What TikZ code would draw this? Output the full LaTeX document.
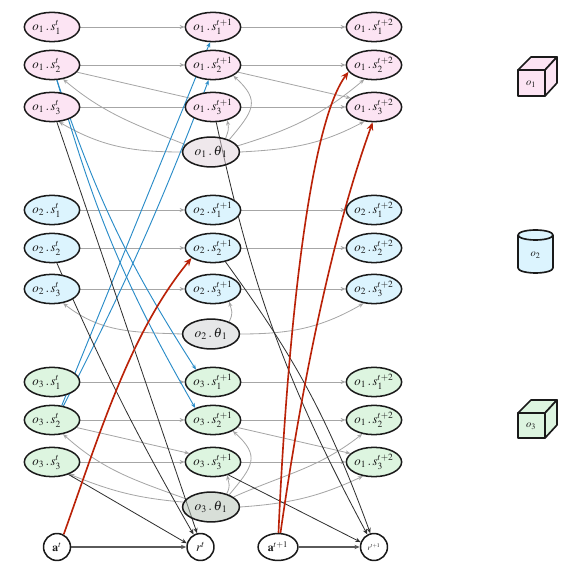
\documentclass[tikz,border=0pt]{standalone}
\usepackage{mathptmx}
\usetikzlibrary{arrows.meta,shapes.geometric}
\definecolor{ink}{HTML}{1A1A1A}
\definecolor{objpink}{HTML}{FCE4F3}
\definecolor{objblue}{HTML}{DCF4FE}
\definecolor{objgreen}{HTML}{DDF5E0}
\definecolor{thetapink}{HTML}{DFD1D9}
\definecolor{thetablue}{HTML}{CDCFD1}
\definecolor{thetagreen}{HTML}{B1BFB1}
\definecolor{linegrey}{HTML}{A6A6A6}
\definecolor{lineblue}{HTML}{2A8CC8}
\definecolor{linered}{HTML}{BA2208}
\definecolor{lineblack}{HTML}{303030}
\definecolor{linedark}{HTML}{5A5A5A}
\pgfdeclarelayer{edges}
\pgfsetlayers{edges,main}
\tikzset{statenode/.style={ellipse,draw=ink,line width=1.3pt,minimum width=45pt,minimum height=25pt,
    inner sep=0,text=ink,font=\fontsize{11}{13}\selectfont},
  thetanode/.style={ellipse,draw=ink,line width=1.3pt,inner sep=0,minimum width=48.5pt,minimum height=25.5pt,
    fill opacity=0.5,text opacity=1,draw opacity=1,text=ink,font=\fontsize{11.5}{14}\selectfont},
  rewardnode/.style={circle,draw=ink,fill=white,line width=1.3pt,inner sep=0,minimum size=23pt,text=ink},
  actionnode/.style={rewardnode,ellipse,minimum width=34pt,minimum height=23pt,font=\fontsize{10}{12}\selectfont},
  greyedge/.style={linegrey,line width=0.7pt,-{Stealth[length=1.5mm,width=1.2mm]}},
  greyplain/.style={linegrey,line width=0.7pt},
  blueedge/.style={lineblue,line width=0.8pt,-{Stealth[length=1.5mm,width=1.2mm]}},
  blackedge/.style={lineblack,line width=0.7pt,-{Stealth[length=1.6mm,width=1.3mm]}},
  rededge/.style={linered,line width=1.4pt,-{Stealth[length=2.4mm,width=2mm]}},
  iconbox/.style={draw=ink,line width=1.4pt,line join=round},
  iconlabel/.style={inner sep=0,text=ink,font=\fontsize{9}{11}\selectfont}}
\newcommand{\slabel}[3]{$o_{#1}\,.\,s_{#2}^{#3}$}
\newcommand{\tlabel}[1]{$o_{#1}\,.\,\theta_{\kern1pt 1}$}
\begin{document}
\begin{tikzpicture}[x=0.3mm,y=-0.3mm]
\useasboundingbox (0,0) rectangle (582,575);
% state nodes, three columns per object
\foreach \obj/\colr/\ya/\yb/\yc in {1/objpink/27/65/107,2/objblue/210/248/289,3/objgreen/382/420/462}{
  \foreach \col/\xpos/\tsup in {0/52/t\phantom{+1},1/213/t+1,2/374/t+2}{
    \pgfmathtruncatemacro{\lab}{(\obj==3 && \col==2) ? 1 : \obj}
    \node[statenode,fill=\colr] (o\obj s1t\col) at (\xpos,\ya) {\slabel{\lab}{1}{\tsup}};
    \node[statenode,fill=\colr] (o\obj s2t\col) at (\xpos,\yb) {\slabel{\lab}{2}{\tsup}};
    \node[statenode,fill=\colr] (o\obj s3t\col) at (\xpos,\yc) {\slabel{\lab}{3}{\tsup}};
  }
}
\node[thetanode,fill=thetapink] (o1theta) at (211,152) {\tlabel{1}};
\node[thetanode,fill=thetablue] (o2theta) at (211,334) {\tlabel{2}};
\node[thetanode,fill=thetagreen] (o3theta) at (211,507) {\tlabel{3}};
\node[actionnode,circle,minimum size=23pt] (at0) at (57,547) {$\mathbf{a}^{t}$};
\node[rewardnode,font=\fontsize{11}{13}\selectfont] (rt0) at (200.5,547) {$r^{t}$};
\node[actionnode] (at1) at (278,547) {$\mathbf{a}^{t+1}$};
\node[rewardnode,font=\fontsize{6.5}{8}\selectfont] (rt1) at (374,547) {$r^{t+1}$};
\begin{pgfonlayer}{edges}
% transitions along one object
\foreach \obj/\row in {1/1,1/2,2/1,2/2,2/3,3/1,3/2,3/3}
  \draw[greyedge] (o\obj s\row t0) -- (o\obj s\row t1);
\foreach \obj in {1,2,3}{
  \foreach \row in {1,2,3}
    \draw[greyedge] (o\obj s\row t1) -- (o\obj s\row t2);
}
\draw[greyplain] (o1s3t0) -- (o1s3t1);
\draw[greyplain] (o1s2t0.-16) -- (o1s3t1.159);
\draw[greyedge] (o1s2t1.-16) -- (o1s3t2.159);
\draw[greyedge] (o3s2t0.-17) -- (o3s3t1.160);
\draw[greyedge] (o3s2t1.-17) -- (o3s3t2.160);
% parameters to states
\draw[greyedge] (o1theta.180) to[out=180,in=-30] (o1s3t0.-65);
\draw[greyedge] (o1theta.164) to[out=158,in=-40] (o1s2t0.-52);
\draw[greyedge] (o1theta.43) to[out=70,in=-80,looseness=1.3] (o1s3t1.-43);
\draw[greyedge] (o1theta.34) to[out=50,in=-42,looseness=1.5] (o1s2t1.-28);
\draw[greyedge] (o1theta.13) to[out=17,in=-140] (o1s2t2.-124);
\draw[greyedge] (o1theta.0) to[out=3,in=-152] (o1s3t2.-124);
\draw[greyedge] (o2theta.180) to[out=178,in=-38] (o2s3t0.-52);
\draw[greyedge] (o2theta.34) to[out=65,in=-75,looseness=1.3] (o2s3t1.-38);
\draw[greyedge] (o2theta.0) to[out=0,in=-150] (o2s3t2.-126);
\draw[greyedge] (o3theta.170) to[out=175,in=-22] (o3s3t0.-35);
\draw[greyedge] (o3theta.162) to[out=160,in=-42] (o3s2t0.-52);
\draw[greyedge] (o3theta.40) to[out=65,in=-80,looseness=1.3] (o3s3t1.-43);
\draw[greyedge] (o3theta.34) to[out=50,in=-42,looseness=1.5] (o3s2t1.-29);
\draw[greyedge] (o3theta.24) to[out=24,in=-142] (o3s2t2.-130);
\draw[greyedge] (o3theta.0) to[out=4,in=-155] (o3s3t2.-128);
% between objects
\draw[blueedge] (o3s2t0.56) -- (o1s1t1.-101);
\draw[blueedge] (o3s2t0.51) to[bend right=3] (o1s2t1.-106);
\draw[blueedge] (o1s2t0.-72) to[bend right=7] (o3s1t1.144);
\draw[blueedge] (o1s2t0.-72) to[bend right=7] (o3s2t1.146);
% rewards
\draw[blackedge] (o1s3t0.-72) -- (rt0.104);
\draw[blackedge] (o2s2t0.-72) to[bend right=3] (rt0.119);
\draw[blackedge] (o3s3t0.-37) -- (rt0.165);
\draw[blackedge] (o1s3t1.-78) to[bend right=8] (rt1.118);
\draw[blackedge] (o2s2t1.-48) to[bend left=8] (rt1.105);
\draw[blackedge] (o3s3t1.-40) -- (rt1.160);
\draw[blackedge,linedark,line width=1pt] (at0) -- (rt0);
\draw[blackedge,linedark,line width=1pt] (at1) -- (rt1);
% actions
\draw[rededge] (at0.62) .. controls (100,433) and (130,333) .. (o2s2t1.-155);
\draw[rededge] (at1.88) .. controls (285,380) and (305,130) .. (o1s2t2.-165);
\draw[rededge] (at1.80) .. controls (299,403) and (329,243) .. (o1s3t2.-95);
\end{pgfonlayer}
% object icons
\draw[iconbox,fill=objpink] (518,70) rectangle (545,96);
\draw[iconbox,fill=objpink] (518,70) -- (531,57) -- (557,57) -- (545,70) -- cycle;
\draw[iconbox,fill=objpink] (545,70) -- (557,57) -- (557,83) -- (545,96) -- cycle;
\node[iconlabel] (iconone) at (531,84) {$o_1$};
\draw[iconbox,fill=objblue] (518,235) -- (518,268) arc[start angle=180,end angle=360,x radius=17.5,y radius=-5] -- (553,235);
\draw[iconbox,fill=objblue] (535.5,235) ellipse[x radius=17.5,y radius=5];
\node[iconlabel] (icontwo) at (535.5,255) {$o_2$};
\draw[iconbox,fill=objgreen] (518,413) rectangle (545,438);
\draw[iconbox,fill=objgreen] (518,413) -- (531,400) -- (557,400) -- (545,413) -- cycle;
\draw[iconbox,fill=objgreen] (545,413) -- (557,400) -- (557,425) -- (545,438) -- cycle;
\node[iconlabel] (iconthree) at (531,426) {$o_3$};
\end{tikzpicture}
\end{document}
